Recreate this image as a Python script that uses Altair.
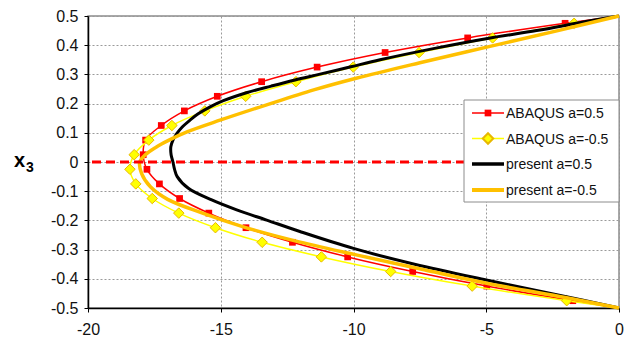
import altair as alt
import pandas as pd

# ---------------- data ----------------
abq_y = [0.475, 0.425, 0.375, 0.325, 0.275, 0.225, 0.175, 0.125, 0.075, 0.025,
         -0.025, -0.075, -0.125, -0.175, -0.225, -0.275, -0.325, -0.375, -0.425, -0.475]
abq_pos_x = [-2.03, -5.70, -8.81, -11.37, -13.46, -15.13, -16.37, -17.24, -17.83, -17.92,
             -17.78, -17.31, -16.55, -15.45, -14.05, -12.30, -10.22, -7.77, -4.98, -1.74]
abq_neg_x = [-1.69, -4.76, -7.53, -10.01, -12.17, -14.06, -15.60, -16.84, -17.71, -18.26,
             -18.42, -18.20, -17.58, -16.58, -15.20, -13.44, -11.21, -8.60, -5.53, -1.97]
edge_y = [0.5, -0.5]
edge_x = [0.0, 0.0]

present_pos_y = [0.5, 0.48, 0.45, 0.424, 0.39, 0.35, 0.326, 0.30, 0.281, 0.26, 0.238, 0.21, 0.189,
                 0.165, 0.144, 0.12, 0.098, 0.075, 0.052, 0.025, 0.0, -0.025, -0.05,
                 -0.09, -0.13, -0.164, -0.199, -0.238, -0.296, -0.35, -0.404, -0.455, -0.5]
present_pos_x = [0.0, -1.3, -3.1, -4.9, -6.9, -9.0, -10.1, -11.3, -12.2, -13.1, -14.0, -14.9, -15.4,
                 -15.85, -16.15, -16.45, -16.65, -16.8, -16.88, -16.87, -16.8, -16.74, -16.64,
                 -16.22, -15.34, -14.40, -13.27, -12.02, -10.0, -7.7, -5.0, -2.3, 0.0]

present_neg_y = [0.5, 0.45, 0.395, 0.34, 0.287, 0.247, 0.195, 0.144, 0.104, 0.075, 0.05, 0.024, 0.0,
                 -0.04, -0.085, -0.128, -0.176, -0.222, -0.27, -0.318, -0.37, -0.415, -0.465, -0.5]
present_neg_x = [0.0, -2.3, -4.9, -7.5, -9.9, -11.5, -13.3, -15.0, -16.25, -16.95, -17.45, -17.85, -18.05,
                 -17.98, -17.65, -17.0, -15.66, -14.15, -12.2, -9.9, -7.3, -4.98, -1.97, 0.0]

zero_line = [0.0]

series_names = ["ABAQUS a=0.5", "ABAQUS a=-0.5", "present a=0.5", "present a=-0.5"]
x_ticks = [-20, -15, -10, -5, 0]
y_ticks = [-0.5, -0.4, -0.3, -0.2, -0.1, 0, 0.1, 0.2, 0.3, 0.4, 0.5]

FONT = "Liberation Sans"


def curve(xs, ys):
    return pd.DataFrame({"x": xs, "y": ys, "i": list(range(len(xs)))})


abq_pos_line = curve([edge_x[0]] + abq_pos_x + [edge_x[1]], [edge_y[0]] + abq_y + [edge_y[1]])
abq_neg_line = curve([edge_x[0]] + abq_neg_x + [edge_x[1]], [edge_y[0]] + abq_y + [edge_y[1]])
abq_pos_pts = curve(abq_pos_x, abq_y)
abq_neg_pts = curve(abq_neg_x, abq_y)
pres_pos = curve(present_pos_x, present_pos_y)
pres_neg = curve(present_neg_x, present_neg_y)

xscale = alt.Scale(domain=[-20, 0], nice=False, zero=False)
yscale = alt.Scale(domain=[-0.5, 0.5], nice=False, zero=False)

common_axis = dict(title=None, labelExpr="toString(datum.value)",
                   grid=True, gridColor="#9a9a9a", gridDash=[2, 2], gridWidth=1,
                   domainColor="#000000", domainWidth=1.5, tickColor="#000000", tickSize=4,
                   labelFont=FONT, labelFontSize=16, labelColor="#111111",
                   labelFlush=False, labelOverlap=False, labelBound=False)
xaxis = alt.Axis(values=x_ticks, labelPadding=9, **common_axis)
yaxis = alt.Axis(values=y_ticks, labelPadding=6, **common_axis)

X = alt.X("x:Q", scale=xscale, axis=xaxis)
Y = alt.Y("y:Q", scale=yscale, axis=yaxis)


def smooth_line(df, color, width):
    return alt.Chart(df).mark_line(color=color, strokeWidth=width, interpolate="catmull-rom").encode(
        x=X, y=Y, order="i:Q")


base = smooth_line(abq_pos_line, "#FF0000", 1.5)
red_pts = alt.Chart(abq_pos_pts).mark_point(shape="square", filled=True, size=45,
                                            color="#FF0000", opacity=1).encode(x=X, y=Y)
yel_line = smooth_line(abq_neg_line, "#FFFF00", 1.5)
yel_pts = alt.Chart(abq_neg_pts).mark_point(shape="diamond", filled=True, size=110, fill="#FFFF00",
                                            stroke="#E8B800", strokeWidth=1, opacity=1).encode(x=X, y=Y)
blk_line = smooth_line(pres_pos, "#000000", 3)
org_line = smooth_line(pres_neg, "#FFC000", 3.5)

zero = alt.Chart(pd.DataFrame({"y": zero_line})).mark_rule(
    color="#FF0000", strokeWidth=3, strokeDash=[9, 5]).encode(y=Y)

# ---------------- legend box (drawn inside the plot) ----------------
one = alt.Data(values=[{}])
legend_layers = [
    alt.Chart(one).mark_rect(fill="white", stroke="#8c8c8c", strokeWidth=1).encode(
        x=alt.value(376), x2=alt.value(531), y=alt.value(84), y2=alt.value(186))
]
leg_rows = [97, 122.5, 148, 174]
leg_colors = ["#FF0000", "#FFFF00", "#000000", "#FFC000"]
leg_widths = [1.5, 1.5, 3.5, 4]
for k, name in enumerate(series_names):
    ly = leg_rows[k]
    legend_layers.append(
        alt.Chart(one).mark_rule(color=leg_colors[k], strokeWidth=leg_widths[k]).encode(
            x=alt.value(384), x2=alt.value(416), y=alt.value(ly)))
    if k == 0:
        legend_layers.append(alt.Chart(one).mark_point(shape="square", filled=True, size=45,
                                                      color="#FF0000", opacity=1).encode(
            x=alt.value(400), y=alt.value(ly)))
    if k == 1:
        legend_layers.append(alt.Chart(one).mark_point(shape="diamond", filled=True, size=110,
                                                      fill="#FFFF00", stroke="#E8B800", opacity=1).encode(
            x=alt.value(400), y=alt.value(ly)))
    legend_layers.append(
        alt.Chart(alt.Data(values=[{"t": name}])).mark_text(
            align="left", baseline="middle", font=FONT, fontSize=14, color="#111111").encode(
            x=alt.value(418), y=alt.value(ly + 1), text="t:N"))

# ---------------- y-axis title x_3 ----------------
title_x = alt.Chart(alt.Data(values=[{"t": "x"}])).mark_text(
    align="left", baseline="alphabetic", font=FONT, fontSize=20, fontWeight="bold", color="#000000").encode(
    x=alt.value(-74), y=alt.value(151), text="t:N")
title_3 = alt.Chart(alt.Data(values=[{"t": "3"}])).mark_text(
    align="left", baseline="alphabetic", font=FONT, fontSize=14, fontWeight="bold", color="#000000").encode(
    x=alt.value(-62), y=alt.value(156), text="t:N")

chart = alt.layer(base, red_pts, yel_line, yel_pts, blk_line, org_line, zero,
                  *legend_layers, title_x, title_3).properties(
    width=531, height=292,
    padding={"left": 88, "top": 16, "right": 11, "bottom": 35},
    autosize=alt.AutoSizeParams(type="none"),
    background="white",
).configure_view(stroke="#8c8c8c", strokeWidth=1.5).configure_axis(labelOverlap=False)

chart.save("out.html", embed_options={"renderer": "svg", "actions": False})
